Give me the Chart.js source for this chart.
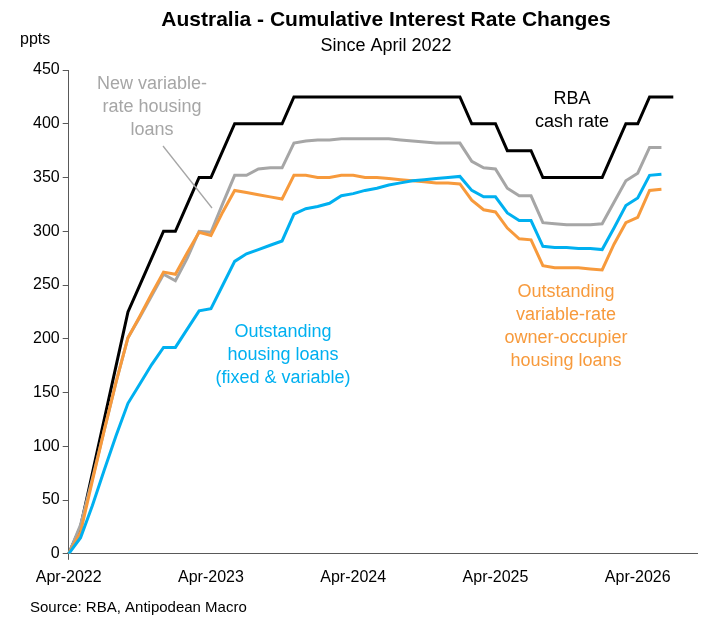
<!DOCTYPE html>
<html>
<head>
<meta charset="utf-8">
<script src="https://cdn.jsdelivr.net/npm/chart.js@4.4.1/dist/chart.umd.min.js"></script>
<style>
  body { margin: 0; background: #fff; }
  #wrap { position: relative; width: 711px; height: 629px; }
</style>
</head>
<body>
<div id="wrap"><canvas id="rateChart"></canvas></div>
<script>
const MONTHS = ["Jan", "Feb", "Mar", "Apr", "May", "Jun", "Jul", "Aug", "Sep", "Oct", "Nov", "Dec"];
const labels = [];
for (let i = 0; i < 54; i++) {
  const m = (3 + i) % 12;
  const y = 2022 + Math.floor((3 + i) / 12);
  labels.push(MONTHS[m] + "-" + y);
}

const cashRate = [0, 25, 75, 125, 175, 225, 250, 275, 300, 300, 325, 350, 350, 375, 400, 400, 400, 400, 400, 425,
  425, 425, 425, 425, 425, 425, 425, 425, 425, 425, 425, 425, 425, 425, 400, 400, 400, 375, 375, 375,
  350, 350, 350, 350, 350, 350, 375, 400, 400, 425, 425, 425];
const newVariable = [0, 27, 70, 115, 160, 201, 220, 240, 260, 254, 275, 300, 299, 326, 352, 352, 358, 359, 359, 382,
  384, 385, 385, 386, 386, 386, 386, 386, 385, 384, 383, 382, 382, 382, 365, 359, 358, 340, 333, 333,
  308, 307, 306, 306, 306, 307, 327, 347, 354, 378, 378];
const ownerOccupier = [0, 20, 68, 115, 160, 201, 221, 242, 262, 260, 280, 299, 296, 318, 338, 336, 334, 332, 330, 352,
  352, 350, 350, 352, 352, 350, 350, 349, 348, 347, 346, 345, 345, 344, 329, 320, 318, 303, 293, 292,
  268, 266, 266, 266, 265, 264, 288, 308, 313, 338, 339];
const outstanding = [0, 15, 45, 78, 110, 140, 158, 176, 192, 192, 209, 226, 228, 250, 272, 279, 283, 287, 291, 316,
  321, 323, 326, 333, 335, 338, 340, 343, 345, 347, 348, 349, 350, 351, 338, 332, 332, 317, 310, 310,
  286, 285, 285, 284, 284, 283, 303, 324, 331, 352, 353];

const yTicks = [0, 50, 100, 150, 200, 250, 300, 350, 400, 450];

const annotations = [
  { lines: ["New variable-", "rate housing", "loans"], x: 152, y: 84, color: "#a6a6a6" },
  { lines: ["RBA", "cash rate"], x: 572, y: 99, color: "#000000" },
  { lines: ["Outstanding", "housing loans", "(fixed & variable)"], x: 283, y: 332, color: "#00b0f0" },
  { lines: ["Outstanding", "variable-rate", "owner-occupier", "housing loans"], x: 566, y: 292, color: "#f79a3c" }
];

const textPlugin = {
  id: "textPlugin",
  afterDraw(chart) {
    const c = chart.ctx;
    c.save();
    c.textAlign = "center";
    c.textBaseline = "middle";
    c.fillStyle = "#000";
    c.font = "bold 21px 'Liberation Sans', Arial, sans-serif";
    c.fillText("Australia - Cumulative Interest Rate Changes", 386, 20);
    c.font = "18px 'Liberation Sans', Arial, sans-serif";
    c.fillText("Since April 2022", 386, 46);
    c.textAlign = "left";
    c.font = "16px 'Liberation Sans', Arial, sans-serif";
    c.fillText("ppts", 20, 40);
    c.font = "15px 'Liberation Sans', Arial, sans-serif";
    c.fillText("Source: RBA, Antipodean Macro", 30, 608);

    c.textAlign = "center";
    c.font = "18px 'Liberation Sans', Arial, sans-serif";
    annotations.forEach(a => {
      c.fillStyle = a.color;
      a.lines.forEach((t, i) => c.fillText(t, a.x, a.y + i * 23));
    });

    c.strokeStyle = "#a6a6a6";
    c.lineWidth = 1.3;
    c.beginPath();
    c.moveTo(163, 146);
    c.lineTo(212, 208);
    c.stroke();
    c.restore();
  }
};

const ctx = document.getElementById("rateChart").getContext("2d");

new Chart(ctx, {
  type: "line",
  data: {
    labels,
    datasets: [
      { label: "Outstanding", data: outstanding, borderColor: "#00b0f0" },
      { label: "Owner-occupier", data: ownerOccupier, borderColor: "#f79a3c" },
      { label: "New variable", data: newVariable, borderColor: "#a6a6a6" },
      { label: "Cash rate", data: cashRate, borderColor: "#000000" }
    ]
  },
  options: {
    responsive: true,
    maintainAspectRatio: false,
    animation: false,
    layout: { padding: { top: 70, right: 14, bottom: 34, left: 30 } },
    elements: {
      line: { borderWidth: 3, tension: 0, fill: false },
      point: { radius: 0 }
    },
    plugins: {
      legend: { display: false },
      tooltip: { enabled: false }
    },
    scales: {
      x: {
        offset: false,
        grid: {
          color: "transparent", drawTicks: true, tickLength: 6,
          tickColor: ctx => (ctx.index % 12 === 0 ? "#595959" : "transparent")
        },
        border: { color: "#595959", width: 1 },
        ticks: {
          autoSkip: false,
          maxRotation: 0,
          padding: 8,
          color: "#000",
          font: { size: 16, family: "'Liberation Sans', Arial, sans-serif" },
          callback: (v, i) => (i % 12 === 0 ? labels[i] : null)
        }
      },
      y: {
        min: 0,
        max: 450,
        afterBuildTicks: axis => { axis.ticks = yTicks.map(v => ({ value: v })); },
        grid: { color: "transparent", drawTicks: true, tickLength: 6, tickColor: "#595959" },
        border: { color: "#595959", width: 1 },
        ticks: {
          color: "#000",
          font: { size: 16, family: "'Liberation Sans', Arial, sans-serif" }
        }
      }
    }
  },
  plugins: [textPlugin]
});
</script>
</body>
</html>
